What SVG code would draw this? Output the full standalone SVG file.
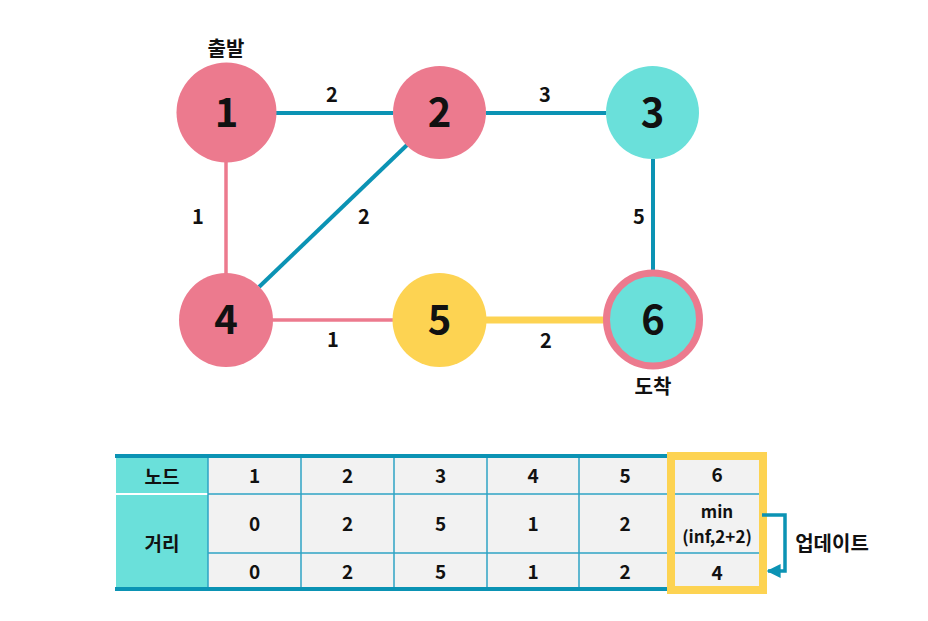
<svg xmlns="http://www.w3.org/2000/svg" width="928" height="621" viewBox="0 0 928 621">
<defs>
<style>
text{font-family:"Noto Sans CJK KR","Noto Sans",sans-serif;font-weight:bold;fill:#111;text-anchor:middle}
.num{font-size:40px}
.lbl{font-size:20px}
.cell{font-size:19px}
.ko{dominant-baseline:central}
.pink{fill:#ec7a8e}
.teal{fill:#6ae0da}
.yel{fill:#fdd352}
.eb{stroke:#0b93b4;stroke-width:4;fill:none}
.ep{stroke:#ec7a8e;stroke-width:3.5;fill:none}
.ey{stroke:#fdd352;stroke-width:7;fill:none}
.grid{stroke:#2ea3c4;stroke-width:1.5;fill:none}
</style>
<marker id="ah" viewBox="0 0 10 10" refX="9" refY="5" markerWidth="4" markerHeight="4" orient="auto">
<path d="M0,0 L10,5 L0,10 z" fill="#0b93b4"/>
</marker>
</defs>
<rect width="928" height="621" fill="#fff"/>
<g id="connectors">
<line class="eb" x1="276" y1="113" x2="393" y2="113"/>
<line class="eb" x1="486" y1="113" x2="606" y2="113"/>
<line class="eb" x1="653" y1="159" x2="653" y2="272"/>
<line class="eb" x1="407" y1="145" x2="259" y2="287"/>
<line class="ep" x1="226" y1="162" x2="226" y2="274"/>
<line class="ep" x1="272" y1="320" x2="394" y2="320"/>
<line class="ey" x1="485" y1="320" x2="608" y2="320"/>
<text class="lbl" x="332" y="102">2</text>
<text class="lbl" x="545" y="102">3</text>
<text class="lbl" x="198" y="224">1</text>
<text class="lbl" x="364" y="224">2</text>
<text class="lbl" x="639" y="224">5</text>
<text class="lbl" x="333" y="347">1</text>
<text class="lbl" x="546" y="348">2</text>
</g>
<g id="node1"><circle class="pink" cx="226.5" cy="112.5" r="50"/><text class="num" x="226.5" y="127">1</text><text class="lbl ko" x="226" y="47">출발</text></g>
<g id="node2"><circle class="pink" cx="439.5" cy="112.5" r="46.5"/><text class="num" x="439.5" y="127">2</text></g>
<g id="node3"><circle class="teal" cx="652.5" cy="112.5" r="46.5"/><text class="num" x="652.5" y="127">3</text></g>
<g id="node4"><circle class="pink" cx="226" cy="320" r="47"/><text class="num" x="226" y="334">4</text></g>
<g id="node5"><circle class="yel" cx="439.5" cy="320" r="47"/><text class="num" x="439.5" y="334">5</text></g>
<g id="node6"><circle class="teal" cx="653" cy="319.5" r="46.5" stroke="#ec7a8e" stroke-width="7"/><text class="num" x="653" y="334">6</text><text class="lbl ko" x="653" y="385">도착</text></g>
<g id="table">
<rect x="116" y="456" width="92" height="133" fill="#6ae0da"/>
<rect x="208" y="456" width="460" height="133" fill="#f2f2f2"/>
<rect x="668" y="456" width="98" height="133" fill="#f2f2f2"/>
<line x1="116" y1="494" x2="208" y2="494" stroke="#fff" stroke-width="2"/>
<line class="grid" x1="208" y1="494" x2="767" y2="494"/>
<line class="grid" x1="208" y1="553" x2="767" y2="553"/>
<line class="grid" x1="208" y1="456" x2="208" y2="589"/>
<line class="grid" x1="301" y1="456" x2="301" y2="589"/>
<line class="grid" x1="394" y1="456" x2="394" y2="589"/>
<line class="grid" x1="487" y1="456" x2="487" y2="589"/>
<line class="grid" x1="579" y1="456" x2="579" y2="589"/>
<line x1="115" y1="456" x2="668" y2="456" stroke="#0b93b4" stroke-width="4"/>
<line x1="115" y1="589" x2="668" y2="589" stroke="#0b93b4" stroke-width="4"/>
<rect x="671" y="456" width="92" height="134" fill="none" stroke="#fdd352" stroke-width="8"/>
<text class="cell ko" x="162" y="475">노드</text>
<text class="cell ko" x="162" y="542">거리</text>
<text class="cell" x="254.5" y="483">1</text>
<text class="cell" x="347.5" y="483">2</text>
<text class="cell" x="440.5" y="483">3</text>
<text class="cell" x="533" y="483">4</text>
<text class="cell" x="625" y="483">5</text>
<text class="cell" x="717" y="482">6</text>
<text class="cell" x="254.5" y="531">0</text>
<text class="cell" x="347.5" y="531">2</text>
<text class="cell" x="440.5" y="531">5</text>
<text class="cell" x="533" y="531">1</text>
<text class="cell" x="625" y="531">2</text>
<text class="cell" x="717" y="518" style="font-size:17px">min</text>
<text class="cell" x="717" y="543" style="font-size:17px">(inf,2+2)</text>
<text class="cell" x="254.5" y="579">0</text>
<text class="cell" x="347.5" y="579">2</text>
<text class="cell" x="440.5" y="579">5</text>
<text class="cell" x="533" y="579">1</text>
<text class="cell" x="625" y="579">2</text>
<text class="cell" x="717" y="580">4</text>
</g>
<g id="update">
<polyline points="762,515 785,515 785,571 768,571" fill="none" stroke="#0b93b4" stroke-width="3.5" marker-end="url(#ah)"/>
<text class="ko" x="832" y="542" style="font-size:20px">업데이트</text>
</g>
</svg>
